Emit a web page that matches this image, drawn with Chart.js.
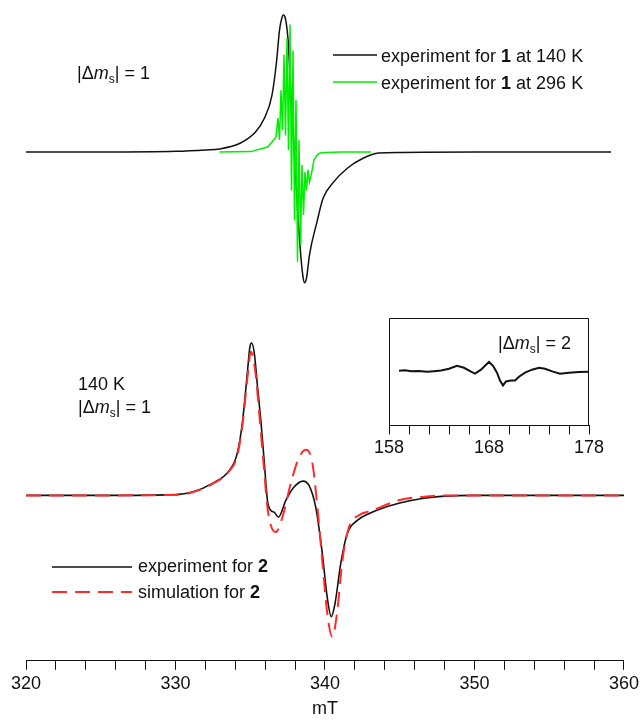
<!DOCTYPE html>
<html>
<head>
<meta charset="utf-8">
<title>EPR spectra</title>
<script src="https://cdn.jsdelivr.net/npm/chart.js@4.4.1/dist/chart.umd.min.js"></script>
<style>
body { margin: 0; background: #fff; }
#wrap { position: relative; width: 642px; height: 723px; overflow: hidden;
	font-family: "Liberation Sans", Arial, sans-serif; font-size: 18px; color: #111; }
#wrap canvas { position: absolute; }
.lbl { position: absolute; line-height: 18px; white-space: nowrap; }
.sub { font-size: 12px; position: relative; top: 4px; }
svg { position: absolute; left: 0; top: 0; }
</style>
</head>
<body>
<div id="wrap">
	<canvas id="mainChart" width="642" height="723" style="left:0;top:0"></canvas>
	<canvas id="topChart" width="642" height="330" style="left:0;top:0"></canvas>
	<canvas id="insetChart" width="300" height="162" style="left:340px;top:300px"></canvas>

	<svg width="642" height="723">
		<line x1="333" y1="55" x2="377" y2="55" stroke="#111" stroke-width="1.5"/>
		<line x1="333" y1="82" x2="377" y2="82" stroke="#00ee00" stroke-width="1.5"/>
		<line x1="52" y1="567" x2="132" y2="567" stroke="#111" stroke-width="1.5"/>
		<line x1="52" y1="592" x2="132" y2="592" stroke="#ff2a2a" stroke-width="2" stroke-dasharray="15 8"/>
	</svg>

	<div class="lbl" style="left:381px;top:47px">experiment for <b>1</b> at 140 K</div>
	<div class="lbl" style="left:381px;top:74px">experiment for <b>1</b> at 296 K</div>
	<div class="lbl" style="left:77px;top:64px">|&Delta;<i>m</i><span class="sub">s</span>| = 1</div>

	<div class="lbl" style="left:78px;top:375px">140 K</div>
	<div class="lbl" style="left:78px;top:398px">|&Delta;<i>m</i><span class="sub">s</span>| = 1</div>
	<div class="lbl" style="left:498px;top:334px">|&Delta;<i>m</i><span class="sub">s</span>| = 2</div>

	<div class="lbl" style="left:138px;top:557px">experiment for <b>2</b></div>
	<div class="lbl" style="left:138px;top:583px">simulation for <b>2</b></div>
</div>

<script>
var fontFam = '"Liberation Sans", Arial, sans-serif';

// top panel, compound 1 (mT, arbitrary intensity)
var topField140 = [320, 325, 330, 332, 332.9, 334.3, 335.3, 335.9, 336.4, 336.7,
	336.9, 337.05, 337.15, 337.25, 337.35, 337.47, 337.6, 337.8, 337.93, 338.13,
	338.33, 338.48, 338.58, 338.7, 338.8, 338.9, 339.4, 339.8, 340.5, 341.4,
	342.5, 343.5, 345, 350, 355, 359];
var topSignal140 = [0, 0, 0.5, 1.5, 2.2, 6.6, 14.6, 24.8, 41.6, 65.7,
	89, 97.5, 100, 99, 94, 82, 56, 16, -9.5, -46,
	-77, -92, -95.5, -92, -84, -75, -51, -34, -22, -12,
	-4.4, -0.7, -0.3, 0, 0, 0];

var topField296 = [332.9, 335, 336.1, 336.4, 336.67, 336.8, 336.9, 337.0, 337.1, 337.2,
	337.3, 337.4, 337.5, 337.6, 337.7, 337.8, 337.9, 338.0, 338.1, 338.2,
	338.3, 338.4, 338.5, 338.6, 338.7, 338.8, 338.9, 339.0, 339.2, 339.4,
	339.6, 340, 341, 343];
var topSignal296 = [0, 0.3, 3.6, 7.3, 11, 24.8, 8.8, 45, 16, 71,
	12, 83, 1.5, 93, -28, 74, -50, 38, -80, 9,
	-68, -9.5, -46, -14.6, -28, -13, -22, -17.5, -5.8, -2.2,
	-0.7, -0.4, 0, 0];

// bottom panel, compound 2
var botField = [320, 325, 330, 331.13, 332.47, 333.6, 334.13, 334.49, 334.82, 334.98,
	335.09, 335.27, 335.49, 335.71, 335.93, 336.15, 336.38, 336.6, 336.89, 337.38,
	337.93, 338.53, 338.93, 339.38, 339.82, 340.15, 340.42, 340.67, 341.05, 341.49,
	342.16, 342.93, 343.6, 345, 346.5, 348, 350, 355, 360];
var botExp = [0, 0, 0.5, 2.2, 7.9, 16.4, 27.6, 49, 82, 97.6,
	100, 93.4, 71, 49, 23, -3.3, -9.9, -11, -14.3, -3.3,
	5.5, 9.4, 6.6, -7.7, -38, -67, -79.6, -71, -45, -25,
	-16.4, -12, -9.2, -5, -2, -0.5, 0, 0, 0];

var simField = [320, 325, 330, 331.13, 332.47, 333.6, 334.13, 334.49, 334.82, 335.04,
	335.33, 335.6, 335.89, 336.15, 336.38, 336.71, 337.16, 337.71, 338.27, 338.75,
	339.16, 339.49, 339.82, 340.16, 340.49, 340.82, 341.16, 341.6, 342.27, 343.16,
	345, 346.5, 348, 350, 355, 360];
var botSim = [0, 0, 0.3, 2, 7.5, 16, 26, 47, 78, 94.3,
	82, 54, 21, -7.7, -19.7, -24, -14, 7.9, 25, 30,
	21, -7.7, -43, -78, -93, -76, -43, -21, -13, -9.9,
	-3, -1, 0, 0, 0, 0];

// inset, half-field line
var insetField = [159, 159.6, 160.2, 161, 161.8, 162.5, 163.2, 164, 164.8, 165.5,
	166.2, 166.6, 167.2, 167.7, 168.0, 168.4, 168.8, 169.1, 169.4, 169.7,
	170.2, 170.6, 171, 171.6, 172.3, 173, 173.6, 174.4, 175.1, 176,
	177, 178];
var insetSignal = [0, 0.3, -0.4, -0.2, -0.7, -0.3, 0.2, 1.3, 3.3, 2,
	-0.6, -2, 0.7, 4, 5.9, 3.3, -1.3, -6.6, -9.9, -7.2,
	-6.6, -6.6, -4, -1.3, 0.7, 2, 1.3, -0.6, -2, -1.3,
	-0.9, -0.6];

var mainTickLabels = [320, 330, 340, 350, 360];
var insetTickLabels = [158, 168, 178];

function toPoints(xs, ys) {
	var pts = [];
	for (var i = 0; i < xs.length; i++) {
		pts.push({x: xs[i], y: ys[i]});
	}
	return pts;
}

function xAxis(min, max, labels) {
	return {
		type: 'linear', min: min, max: max,
		ticks: {
			stepSize: 2, autoSkip: false, maxRotation: 0, padding: 3, color: '#111',
			font: {family: fontFam, size: 18},
			callback: function(v) { return labels.indexOf(v) >= 0 ? String(v) : ''; }
		},
		grid: {drawOnChartArea: false, drawTicks: true, tickLength: 9, color: '#111', lineWidth: 1},
		border: {display: true, color: '#111', width: 1}
	};
}

var commonPlugins = {legend: {display: false}, tooltip: {enabled: false}};

// frame on top, left and right of the inset
var boxPlugin = {
	id: 'boxFrame',
	afterDraw: function(chart) {
		var a = chart.chartArea, c = chart.ctx;
		c.save();
		c.strokeStyle = '#111';
		c.lineWidth = 1;
		c.beginPath();
		c.moveTo(Math.round(a.left) + 0.5, a.bottom);
		c.lineTo(Math.round(a.left) + 0.5, Math.round(a.top) + 0.5);
		c.lineTo(Math.round(a.right) - 0.5, Math.round(a.top) + 0.5);
		c.lineTo(Math.round(a.right) - 0.5, a.bottom);
		c.stroke();
		c.restore();
	}
};

var mainAxis = xAxis(320, 360, mainTickLabels);
mainAxis.title = {display: true, text: 'mT', color: '#111',
	font: {family: fontFam, size: 18}, padding: {top: 1, bottom: 3}};

new Chart(document.getElementById('mainChart'), {
	type: 'line',
	data: {
		datasets: [{
			label: 'simulation for 2',
			data: toPoints(simField, botSim),
			borderColor: '#ff2a2a', borderWidth: 2, borderDash: [15, 8],
			pointRadius: 0, cubicInterpolationMode: 'monotone', order: 0
		}, {
			label: 'experiment for 2',
			data: toPoints(botField, botExp),
			borderColor: '#111', borderWidth: 1.6,
			pointRadius: 0, cubicInterpolationMode: 'monotone', order: 1
		}]
	},
	options: {
		responsive: false, animation: false,
		layout: {padding: {left: 26, right: 16, top: 330, bottom: 0}},
		plugins: commonPlugins,
		scales: {
			x: mainAxis,
			y: {display: false, min: -108.55, max: 108.55}
		}
	}
});

new Chart(document.getElementById('topChart'), {
	type: 'line',
	data: {
		datasets: [{
			label: 'experiment for 1 at 296 K',
			data: toPoints(topField296, topSignal296),
			borderColor: '#00ee00', borderWidth: 1.5,
			pointRadius: 0, tension: 0, order: 0
		}, {
			label: 'experiment for 1 at 140 K',
			data: toPoints(topField140, topSignal140),
			borderColor: '#111', borderWidth: 1.5,
			pointRadius: 0, cubicInterpolationMode: 'monotone', order: 1
		}]
	},
	options: {
		responsive: false, animation: false,
		layout: {padding: {left: 26, right: 16, top: 0, bottom: 0}},
		plugins: commonPlugins,
		scales: {
			x: {type: 'linear', display: false, min: 320, max: 360},
			y: {display: false, min: -129.9, max: 110.95}
		}
	}
});

new Chart(document.getElementById('insetChart'), {
	type: 'line',
	data: {
		datasets: [{
			label: '|Δms| = 2',
			data: toPoints(insetField, insetSignal),
			borderColor: '#111', borderWidth: 2,
			pointRadius: 0, tension: 0
		}]
	},
	options: {
		responsive: false, animation: false,
		layout: {padding: {left: 49, right: 51, top: 18, bottom: 0}},
		plugins: commonPlugins,
		scales: {
			x: xAxis(158, 178, insetTickLabels),
			y: {display: false, min: -36.8, max: 35.5}
		}
	},
	plugins: [boxPlugin]
});
</script>
</body>
</html>
